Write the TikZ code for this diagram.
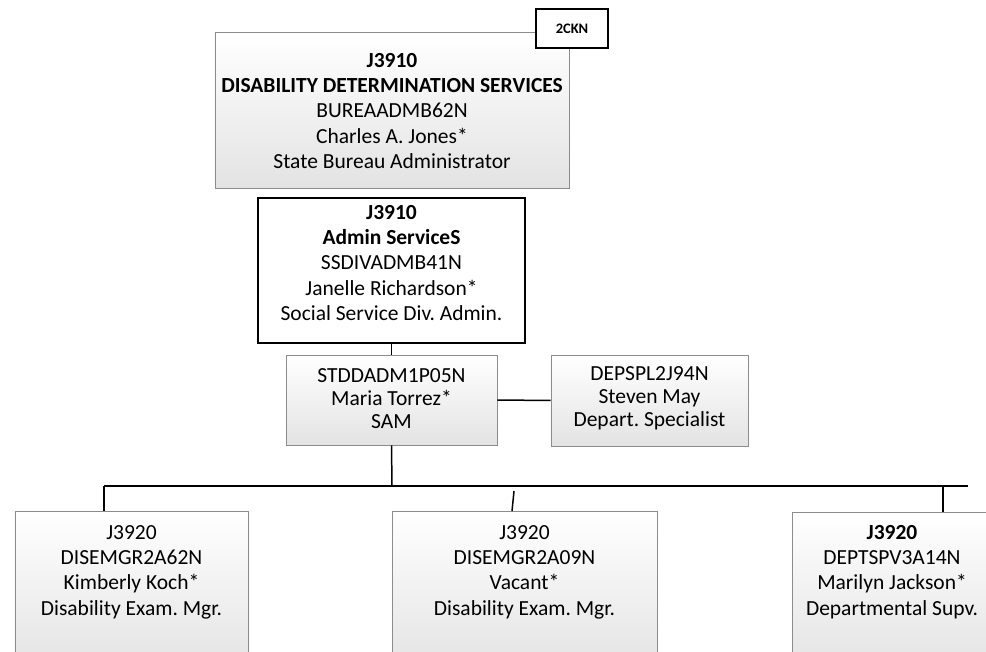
\documentclass[tikz,border=0pt]{standalone}
\usepackage{fontspec}
\setmainfont{Carlito}
\begin{document}
\frenchspacing
\begin{tikzpicture}[x=1pt,y=-1pt,
  gbox/.style={draw=black!45, line width=0.8pt, top color=white, bottom color=black!11, shading angle=0, inner sep=0pt},
  wbox/.style={draw=black, line width=1.8pt, fill=white, inner sep=0pt},
  tbox/.style={draw=black, line width=1.5pt, fill=white, inner sep=0pt, font=\fontsize{14.5}{16}\selectfont\bfseries},
  txt/.style={align=center, inner sep=0pt, font=\fontsize{21.5}{25.3}\selectfont},
  stxt/.style={align=center, inner sep=0pt, font=\fontsize{21.5}{23}\selectfont},
  link/.style={draw=black, line width=1.5pt}]
\useasboundingbox (0,0) rectangle (986,652);
\clip (0,0) rectangle (986,652);
% top box
\node[gbox, minimum width=354pt, minimum height=156pt] (dds) at (392,110) {};
\node[txt] (ddst) at (392,111) {\textbf{J3910}\\\textbf{DISABILITY DETERMINATION SERVICES}\\BUREAADMB62N\\Charles A. Jones*\\State Bureau Administrator};
\node[tbox, minimum width=72pt, minimum height=39pt] (ckn) at (572,28.5) {2CKN};
% admin
\node[wbox, minimum width=267pt, minimum height=145pt] (adm) at (391.5,270.5) {};
\node[txt] (admt) at (391.5,263) {\textbf{J3910}\\\textbf{Admin ServiceS}\\SSDIVADMB41N\\Janelle Richardson*\\Social Service Div. Admin.};
% SAM
\node[gbox, minimum width=211pt, minimum height=90pt] (sam) at (391.5,400) {};
\node[stxt] (samt) at (391.5,399) {STDDADM1P05N\\Maria Torrez*\\SAM};
% DEPSPL
\node[gbox, minimum width=197pt, minimum height=91pt] (dep) at (649.5,400.5) {};
\node[stxt] (dept) at (649.5,398) {DEPSPL2J94N\\Steven May\\Depart. Specialist};
% bottom boxes
\node[gbox, anchor=north west, minimum width=233pt, minimum height=160pt] (b1) at (15,511) {};
\node[txt, anchor=north] (b1t) at (131.5,525) {J3920\\DISEMGR2A62N\\Kimberly Koch*\\Disability Exam. Mgr.};
\node[gbox, anchor=north west, minimum width=265pt, minimum height=160pt] (b2) at (392,511) {};
\node[txt, anchor=north] (b2t) at (524.5,525) {J3920\\DISEMGR2A09N\\Vacant*\\Disability Exam. Mgr.};
\node[gbox, anchor=north west, minimum width=202pt, minimum height=160pt] (b3) at (792,512) {};
\node[txt, anchor=north] (b3t) at (892,525) {\textbf{J3920}\\DEPTSPV3A14N\\Marilyn Jackson*\\Departmental Supv.};
% connectors
\coordinate (hl) at (104,486);
\coordinate (hr) at (968,486);
\coordinate (hs) at (392,486);
\coordinate (mtop) at (514,491);
\coordinate (mbot) at (512,511);
\draw[link] (adm.south) -- (sam.north);
\draw[link] (sam.east) -- (dep.west);
\draw[link] (sam.south) -- (hs);
\draw[link] (hl) -- (hr);
\draw[link] (hl) -- (hl |- b1.north);
\draw[link] (943,486) coordinate (h3) -- (h3 |- b3.north);
\draw[link] (mtop) -- (mbot);
\end{tikzpicture}
\end{document}
